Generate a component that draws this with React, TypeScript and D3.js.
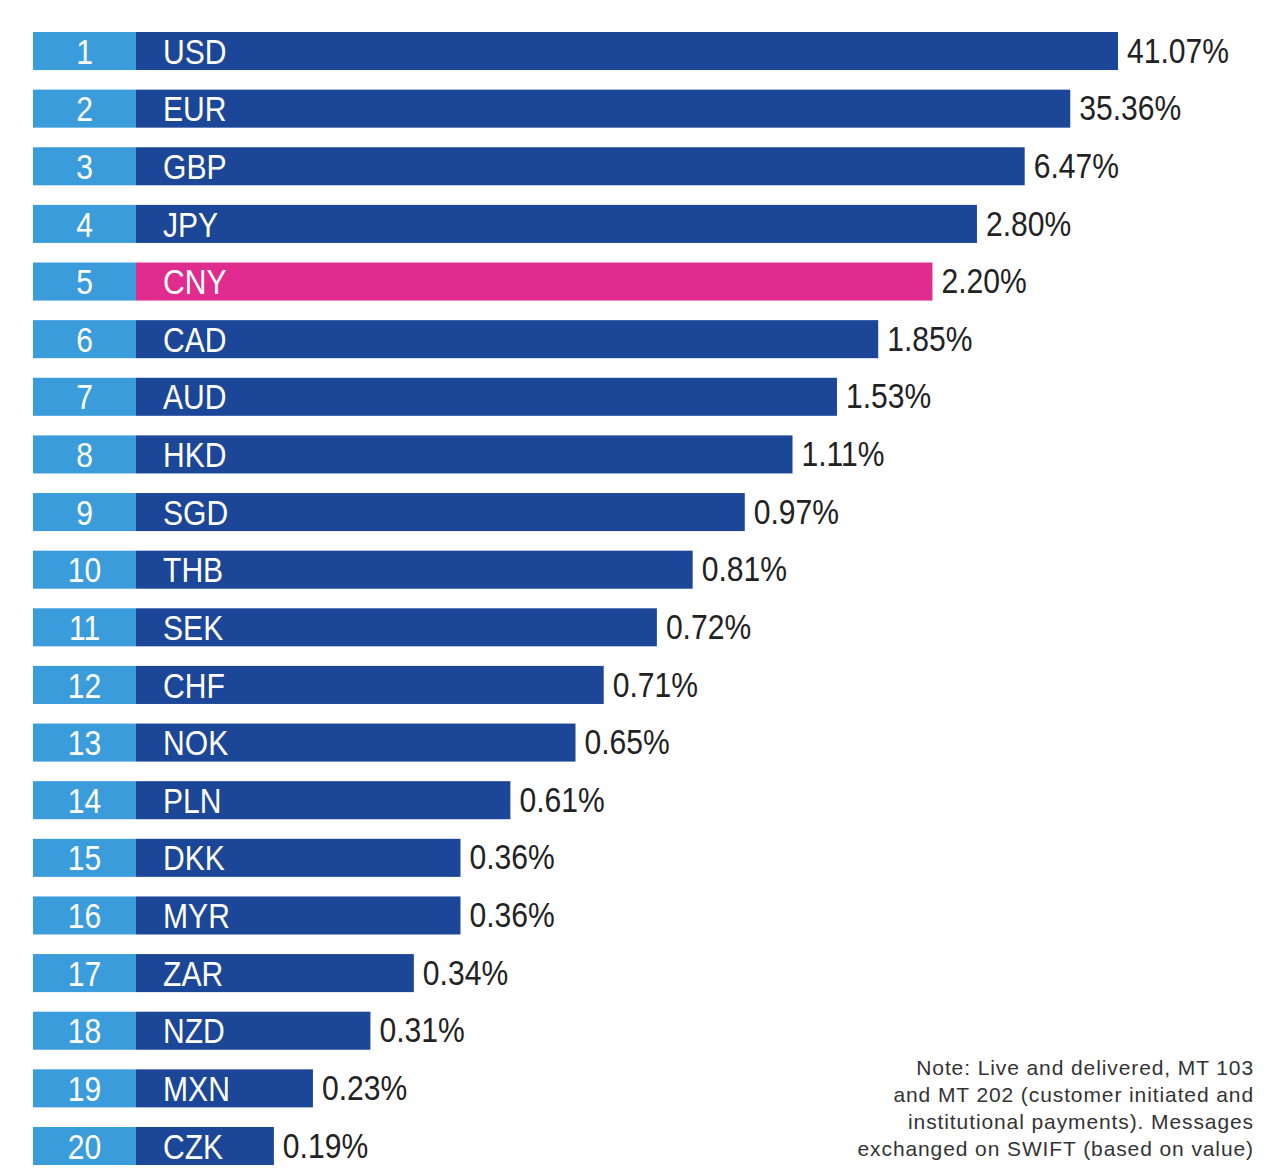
import { useEffect, useRef } from "react";
import * as d3 from "d3";

// rank order, SWIFT share of payments by value
const currencies = ["USD", "EUR", "GBP", "JPY", "CNY", "CAD", "AUD", "HKD", "SGD", "THB", "SEK", "CHF", "NOK", "PLN", "DKK", "MYR", "ZAR", "NZD", "MXN", "CZK"];
const shares = [41.07, 35.36, 6.47, 2.8, 2.2, 1.85, 1.53, 1.11, 0.97, 0.81, 0.72, 0.71, 0.65, 0.61, 0.36, 0.36, 0.34, 0.31, 0.23, 0.19];
// bar length as drawn in the original (not proportional to share), 100 = longest bar
const displayLength = [100, 95.6, 91.4, 87.0, 82.9, 77.9, 74.1, 70.0, 65.6, 60.8, 57.5, 52.6, 50.0, 44.0, 39.4, 39.4, 35.1, 31.1, 25.8, 22.2];
const highlight = "CNY";
const noteLines = [
  "Note: Live and delivered, MT 103",
  "and MT 202 (customer initiated and",
  "institutional payments). Messages",
  "exchanged on SWIFT (based on value)",
];

const W = 1280;
const H = 1174;
const sans = "'Liberation Sans', Arial, sans-serif";
const squeeze = 0.86; // condensed look

export default function App() {
  const ref = useRef<SVGSVGElement>(null);

  useEffect(() => {
    document.body.style.margin = "0";
    if (!ref.current) return;
    const svg = d3.select(ref.current);
    svg.selectAll("*").remove();

    const rows = currencies.map((c, i) => ({ c, rank: i + 1, share: shares[i], len: displayLength[i] }));

    const x = d3.scaleLinear().domain([0, 100]).range([33, 1118]);
    const y = d3.scaleBand<string>().domain(currencies).range([32, 1165]).paddingInner(0.34).paddingOuter(0);
    const rankEnd = 136;
    const fs = 35;

    const g = svg.selectAll("g.row").data(rows).join("g").attr("class", "row")
      .attr("transform", (d) => `translate(0,${y(d.c)})`);

    g.append("rect")
      .attr("x", rankEnd)
      .attr("width", (d) => x(d.len) - rankEnd)
      .attr("height", y.bandwidth())
      .attr("fill", (d) => (d.c === highlight ? "#e02b8f" : "#1c4697"));

    g.append("rect")
      .attr("x", x(0))
      .attr("width", rankEnd - x(0))
      .attr("height", y.bandwidth())
      .attr("fill", "#3b9cdc");

    const base = y.bandwidth() / 2 + fs * 0.36;
    const label = (sel: d3.Selection<SVGGElement, any, any, any>, tx: (d: any) => number, ty: number) =>
      sel.append("text")
        .attr("transform", (d) => `translate(${tx(d)},${ty}) scale(${squeeze},1)`)
        .attr("font-family", sans)
        .attr("font-size", fs);

    label(g, () => (x(0) + rankEnd) / 2, base)
      .attr("text-anchor", "middle")
      .attr("fill", "#fff")
      .text((d) => d.rank);

    label(g, () => 163, base)
      .attr("fill", "#fff")
      .text((d) => d.c);

    label(g, (d) => x(d.len) + 9, base - 1)
      .attr("fill", "#222")
      .text((d) => `${d.share.toFixed(2)}%`);

    svg.append("g")
      .selectAll("text")
      .data(noteLines)
      .join("text")
      .attr("x", 1254)
      .attr("y", (_, i) => 1075 + i * 27)
      .attr("text-anchor", "end")
      .attr("font-family", sans)
      .attr("font-size", 21)
      .attr("letter-spacing", 0.9)
      .attr("fill", "#333")
      .text((d) => d);
  }, []);

  return <svg ref={ref} width={W} height={H} style={{ display: "block", background: "#fff" }} />;
}
